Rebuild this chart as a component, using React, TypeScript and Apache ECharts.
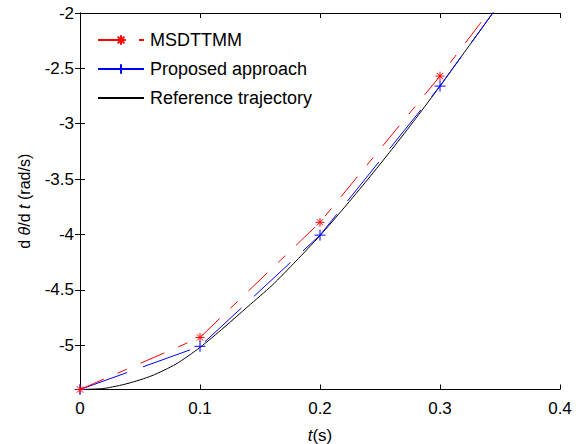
import React, { useEffect, useRef } from "react";
import * as echarts from "echarts";

const tStep = [0, 0.1, 0.2, 0.3, 0.4];
const msdttmm = [-5.4, -4.93, -3.89, -2.57, -1.15];
const proposed = [-5.4, -5.01, -4.006, -2.66, -1.16];
const refT = [0, 0.02, 0.04, 0.06, 0.08, 0.1, 0.12, 0.14, 0.16, 0.18, 0.2, 0.22, 0.24, 0.26, 0.28, 0.3, 0.32, 0.34, 0.36];
const refV = [-5.4, -5.39, -5.345, -5.275, -5.17, -5.02, -4.84, -4.65, -4.46, -4.24, -4.01, -3.76, -3.5, -3.23, -2.95, -2.66, -2.36, -2.06, -1.75];
const yTicks = [-5, -4.5, -4, -3.5, -3, -2.5, -2];
const xTicks = [0, 0.1, 0.2, 0.3, 0.4];

const FONT = "Liberation Sans, Arial, Helvetica, sans-serif";

const plusSym = "path://M5,0L5,10M0,5L10,5";
const starSym = "path://M5,0L5,10M0,5L10,5M1.5,1.5L8.5,8.5M1.5,8.5L8.5,1.5";

export default function App() {
  const ref = useRef<HTMLDivElement>(null);
  useEffect(() => {
    if (!ref.current) return;
    const chart = echarts.init(ref.current, undefined, { renderer: "svg" });
    const axisLine = { show: true, lineStyle: { color: "#000", width: 1 } };
    const tick = { show: true, inside: true, length: 5, lineStyle: { color: "#000", width: 1 } };
    chart.setOption({
      animation: false,
      backgroundColor: "#fff",
      grid: { left: 80, right: 20, top: 13, bottom: 54.5, containLabel: false, outerBoundsMode: "none" },
      legend: {
        orient: "vertical",
        left: 92,
        top: 26,
        itemWidth: 46,
        itemHeight: 12,
        itemGap: 11,
        textStyle: { fontSize: 18, lineHeight: 14, color: "#000", fontFamily: FONT, padding: [0, 0, 0, 1] },
        data: [
          { name: "MSDTTMM" },
          { name: "Proposed approach" },
          { name: "Reference trajectory", itemStyle: { opacity: 0 } },
        ],
      },
      xAxis: [
        {
          type: "value",
          min: 0,
          max: 0.4,
          interval: 0.1,
          position: "bottom",
          axisLine,
          axisTick: tick,
          splitLine: { show: false },
          axisLabel: { color: "#000", fontSize: 17, fontFamily: FONT, margin: 10, customValues: xTicks },
          name: "{i|t}(s)",
          nameLocation: "middle",
          nameGap: 37,
          nameTextStyle: {
            fontSize: 17,
            color: "#000",
            fontFamily: FONT,
            rich: { i: { fontStyle: "italic", fontSize: 17, fontFamily: FONT, color: "#000" } },
          },
        },
        {
          type: "value",
          min: 0,
          max: 0.4,
          interval: 0.1,
          position: "top",
          axisLine,
          axisTick: tick,
          axisLabel: { show: false },
          splitLine: { show: false },
        },
      ],
      yAxis: [
        {
          type: "value",
          min: -5.4,
          max: -2,
          position: "left",
          axisLine,
          axisTick: { ...tick, customValues: yTicks },
          splitLine: { show: false },
          axisLabel: { color: "#000", fontSize: 17, fontFamily: FONT, margin: 6, customValues: yTicks },
          name: "d {i|θ}/d {i|t} (rad/s)",
          nameLocation: "middle",
          nameGap: 48,
          nameTextStyle: {
            fontSize: 16,
            color: "#000",
            fontFamily: FONT,
            rich: { i: { fontStyle: "italic", fontSize: 16, fontFamily: FONT, color: "#000" } },
          },
        },
        {
          type: "value",
          min: -5.4,
          max: -2,
          position: "right",
          axisLine,
          axisTick: { ...tick, customValues: yTicks },
          axisLabel: { show: false },
          splitLine: { show: false },
        },
      ],
      series: [
        {
          name: "Reference trajectory",
          type: "line",
          data: refT.map((t, i) => [t, refV[i]]),
          showSymbol: false,
          symbol: "circle",
          symbolSize: 0,
          smooth: 0.25,
          clip: true,
          lineStyle: { color: "#000", width: 1 },
          itemStyle: { color: "#000" },
          z: 1,
        },
        {
          name: "Proposed approach",
          type: "line",
          data: tStep.map((t, i) => [t, proposed[i]]),
          symbol: plusSym,
          symbolSize: 11,
          clip: true,
          lineStyle: { color: "#0000ff", width: 1, type: [50, 17] },
          itemStyle: { color: "#0000ff", borderColor: "#0000ff", borderWidth: 1 },
          z: 2,
        },
        {
          name: "MSDTTMM",
          type: "line",
          data: tStep.map((t, i) => [t, msdttmm[i]]),
          symbol: starSym,
          symbolSize: 9,
          clip: true,
          lineStyle: { color: "#ff0000", width: 1, type: [26, 15, 10, 15] },
          itemStyle: { color: "#ff0000", borderColor: "#ff0000", borderWidth: 1 },
          z: 3,
        },
      ],
    });
    return () => chart.dispose();
  }, []);
  return <div ref={ref} style={{ width: 580, height: 444, position: "absolute", left: 0, top: 0 }} />;
}
